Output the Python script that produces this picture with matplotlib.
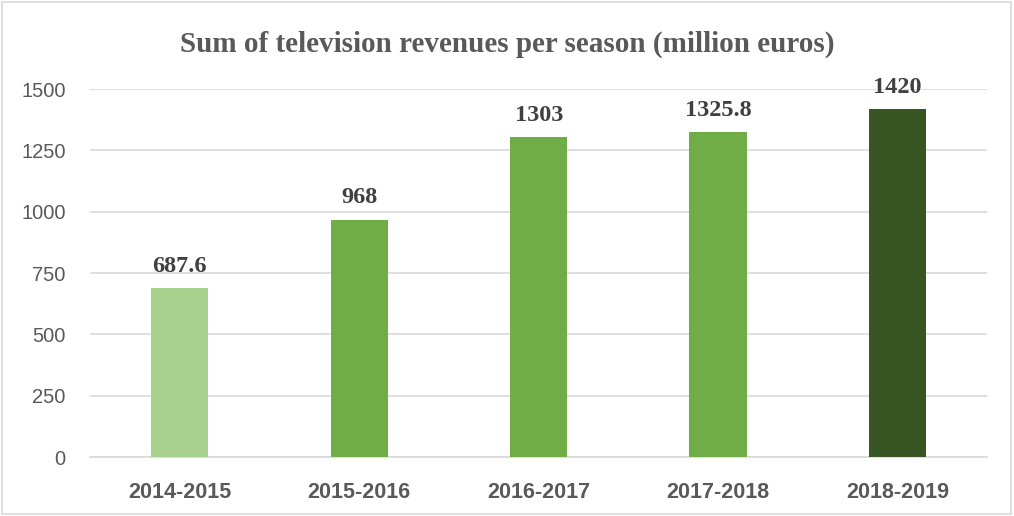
import numpy as np
import matplotlib.pyplot as plt
from matplotlib.patches import Rectangle

# Television revenues by season
seasons = ['2014-2015', '2015-2016', '2016-2017', '2017-2018', '2018-2019']
revenues = [687.6, 968, 1303, 1325.8, 1420]
value_labels = ['687.6', '968', '1303', '1325.8', '1420']
bar_colors = ['#A9D18E', '#70AD47', '#70AD47', '#70AD47', '#375623']
y_ticks = [0, 250, 500, 750, 1000, 1250, 1500]

fig = plt.figure(figsize=(10.14, 5.16), dpi=100)
ax = fig.add_axes([0.0888, 0.1143, 0.885, 0.7132])

x = np.arange(len(seasons))
ax.bar(x, revenues, width=0.32, color=bar_colors, zorder=3)

for xi, v, lab in zip(x, revenues, value_labels):
    ax.annotate(lab, (xi, v), xytext=(0, 8), textcoords='offset points',
                ha='center', va='bottom', fontsize=17.5, fontweight='bold',
                family='Liberation Serif', color='#404040', clip_on=False)

ax.set_xlim(-0.5, len(seasons) - 0.5)
ax.set_ylim(0, 1500)
ax.set_yticks(y_ticks)
ax.set_yticklabels([str(t) for t in y_ticks], family='Liberation Sans',
                   fontsize=14.5, color='#595959')
ax.set_xticks(x)
ax.set_xticklabels(seasons, family='Liberation Sans', fontsize=15.5,
                   fontweight='bold', color='#595959')
ax.tick_params(axis='both', length=0)
ax.tick_params(axis='y', pad=17.5)
ax.tick_params(axis='x', pad=18)

ax.yaxis.grid(True, color='#D9D9D9', linewidth=1.2, zorder=0)
for s in ['top', 'right', 'left']:
    ax.spines[s].set_visible(False)
ax.spines['bottom'].set_color('#D9D9D9')
ax.spines['bottom'].set_linewidth(1.2)

fig.text(0.5, 0.915, 'Sum of television revenues per season (million euros)',
         ha='center', va='center', fontsize=21, fontweight='bold',
         family='Liberation Serif', color='#595959')

# thin frame round the whole chart
fig.patches.append(Rectangle((0.002, 0.003), 0.995, 0.994, transform=fig.transFigure,
                             fill=False, edgecolor='#D9D9D9', linewidth=1.2))

fig.savefig('out.png', dpi=100)
